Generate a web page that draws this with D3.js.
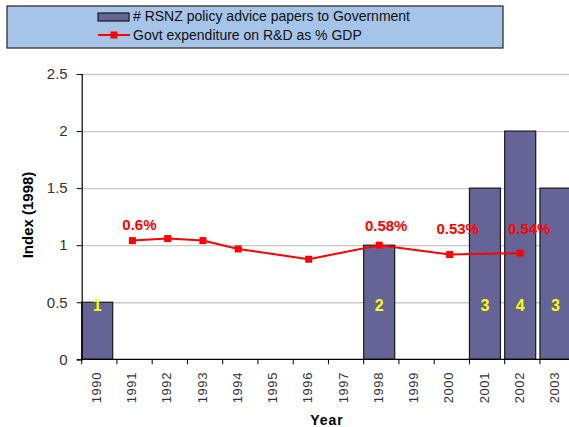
<!DOCTYPE html>
<html>
<head>
<meta charset="utf-8">
<script src="https://cdn.jsdelivr.net/npm/d3@7"></script>
<style>
  body { margin: 0; background: #fff; }
  svg { display: block; font-family: "Liberation Sans", Arial, sans-serif; }
</style>
</head>
<body>
<div id="chart"></div>
<script>
const years = ['1990','1991','1992','1993','1994','1995','1996','1997','1998','1999','2000','2001','2002','2003'];

// bars: index value and number of papers
const barYears = ['1990', '1998', '2001', '2002', '2003'];
const barValues = [0.5, 1.0, 1.5, 2.0, 1.5];
const barLabels = ['1', '2', '3', '4', '3'];

// line: govt R&D expenditure index
const lineYears = ['1991', '1992', '1993', '1994', '1996', '1998', '2000', '2002'];
const lineValues = [1.04, 1.058, 1.04, 0.967, 0.877, 1.0, 0.918, 0.93];

// percentage annotations
const pctYears = ['1991', '1998', '2000', '2002'];
const pctLabels = ['0.6%', '0.58%', '0.53%', '0.54%'];

const yTicks = [0, 0.5, 1, 1.5, 2, 2.5];

const width = 569, height = 427;
const plotLeft = 81.7, plotBottom = 359.3, plotTop = 74;
const step = 35.25;

const svg = d3.select('#chart').append('svg')
  .attr('width', width).attr('height', height);

const x = d3.scaleBand()
  .domain(years)
  .range([plotLeft, plotLeft + step * years.length])
  .paddingInner(0).paddingOuter(0);

const y = d3.scaleLinear().domain([0, 2.5]).range([plotBottom, plotTop]);

const barW = 31;

// gridlines
svg.append('g')
  .attr('transform', `translate(${plotLeft},0)`)
  .call(d3.axisLeft(y).tickValues(yTicks.slice(1)).tickFormat('').tickSize(-(width - plotLeft + 20)))
  .call(g => g.select('.domain').remove())
  .call(g => g.selectAll('line').attr('stroke', '#c8c8c8').attr('stroke-width', 1.3));

// bars
svg.append('g').selectAll('rect')
  .data(barYears.map((d, i) => ({ year: d, value: barValues[i], label: barLabels[i] })))
  .join('rect')
  .attr('x', d => x(d.year))
  .attr('y', d => y(d.value))
  .attr('width', barW)
  .attr('height', d => y(0) - y(d.value))
  .attr('fill', '#646496')
  .attr('stroke', '#1a1a1a')
  .attr('stroke-width', 1.2);

svg.append('g').selectAll('text')
  .data(barYears.map((d, i) => ({ year: d, label: barLabels[i] })))
  .join('text')
  .attr('x', d => x(d.year) + barW / 2)
  .attr('y', y(0.476))
  .attr('dy', '0.36em')
  .attr('text-anchor', 'middle')
  .attr('fill', '#ffff00')
  .attr('font-weight', 'bold')
  .attr('font-size', 16)
  .text(d => d.label);

// line
const linePts = lineYears.map((d, i) => ({ year: d, value: lineValues[i] }));
svg.append('path')
  .datum(linePts)
  .attr('fill', 'none')
  .attr('stroke', '#ff0000')
  .attr('stroke-width', 2)
  .attr('d', d3.line().x(d => x(d.year) + barW / 2).y(d => y(d.value)));

svg.append('g').selectAll('rect')
  .data(linePts)
  .join('rect')
  .attr('x', d => x(d.year) + barW / 2 - 3.5)
  .attr('y', d => y(d.value) - 3.5)
  .attr('width', 7).attr('height', 7)
  .attr('fill', '#ff0000');

// percentage labels
svg.append('g').selectAll('text')
  .data(pctYears.map((d, i) => ({ year: d, label: pctLabels[i] })))
  .join('text')
  .attr('x', (d, i) => x(d.year) + barW / 2 + [7, 7, 8, 9][i])
  .attr('y', (d, i) => [225, 226, 229, 229][i])
  .attr('dy', '0.36em')
  .attr('text-anchor', 'middle')
  .attr('fill', '#ff0000')
  .attr('font-weight', 'bold')
  .attr('font-size', 15)
  .text(d => d.label);

// y axis
svg.append('g')
  .attr('transform', `translate(${plotLeft},0)`)
  .call(d3.axisLeft(y).tickValues(yTicks).tickFormat(d3.format('')).tickSize(5).tickPadding(9))
  .call(g => g.select('.domain').attr('stroke', '#000').attr('stroke-width', 1.2))
  .call(g => g.selectAll('line').attr('stroke', '#000'))
  .call(g => g.selectAll('text').attr('font-size', 15).attr('fill', '#333').attr('font-family', 'Liberation Sans, Arial'));

// x axis line + category boundary ticks
const xAxisG = svg.append('g');
xAxisG.append('line')
  .attr('x1', plotLeft).attr('x2', width)
  .attr('y1', plotBottom).attr('y2', plotBottom)
  .attr('stroke', '#000').attr('stroke-width', 1.2);
xAxisG.selectAll('line.tick')
  .data(years)
  .join('line')
  .attr('class', 'tick')
  .attr('x1', d => x(d)).attr('x2', d => x(d))
  .attr('y1', plotBottom).attr('y2', plotBottom + 5)
  .attr('stroke', '#000');
xAxisG.selectAll('text')
  .data(years)
  .join('text')
  .attr('transform', d => `translate(${x(d) + barW / 2 - 1},372) rotate(-90)`)
  .attr('text-anchor', 'end')
  .attr('dy', '0.36em')
  .attr('font-size', 13)
  .attr('letter-spacing', 0.6)
  .attr('fill', '#333')
  .text(d => d);

// axis titles
svg.append('text')
  .attr('transform', 'translate(28,215) rotate(-90)')
  .attr('text-anchor', 'middle')
  .attr('dy', '0.36em')
  .attr('font-weight', 'bold')
  .attr('font-size', 15)
  .text('Index (1998)');

svg.append('text')
  .attr('x', 327).attr('y', 420)
  .attr('text-anchor', 'middle')
  .attr('dy', '0.36em')
  .attr('font-weight', 'bold')
  .attr('font-size', 14)
  .attr('letter-spacing', 1)
  .text('Year');

// legend
const legend = svg.append('g');
legend.append('rect')
  .attr('x', 7).attr('y', 6).attr('width', 496).attr('height', 42)
  .attr('fill', '#a6c4e8').attr('stroke', '#333').attr('stroke-width', 1.3);
legend.append('rect')
  .attr('x', 98).attr('y', 13).attr('width', 31).attr('height', 8)
  .attr('fill', '#646496').attr('stroke', '#1a1a1a').attr('stroke-width', 1.2);
legend.append('line')
  .attr('x1', 98).attr('x2', 130).attr('y1', 35).attr('y2', 35)
  .attr('stroke', '#ff0000').attr('stroke-width', 2);
legend.append('rect')
  .attr('x', 110.5).attr('y', 31.5).attr('width', 7).attr('height', 7)
  .attr('fill', '#ff0000');
legend.append('text')
  .attr('x', 133).attr('y', 16).attr('dy', '0.36em')
  .attr('font-size', 14).attr('fill', '#111')
  .text('# RSNZ policy advice papers to Government');
legend.append('text')
  .attr('x', 133).attr('y', 35).attr('dy', '0.36em')
  .attr('font-size', 14).attr('fill', '#111')
  .text('Govt expenditure on R&D as % GDP');
</script>
</body>
</html>
